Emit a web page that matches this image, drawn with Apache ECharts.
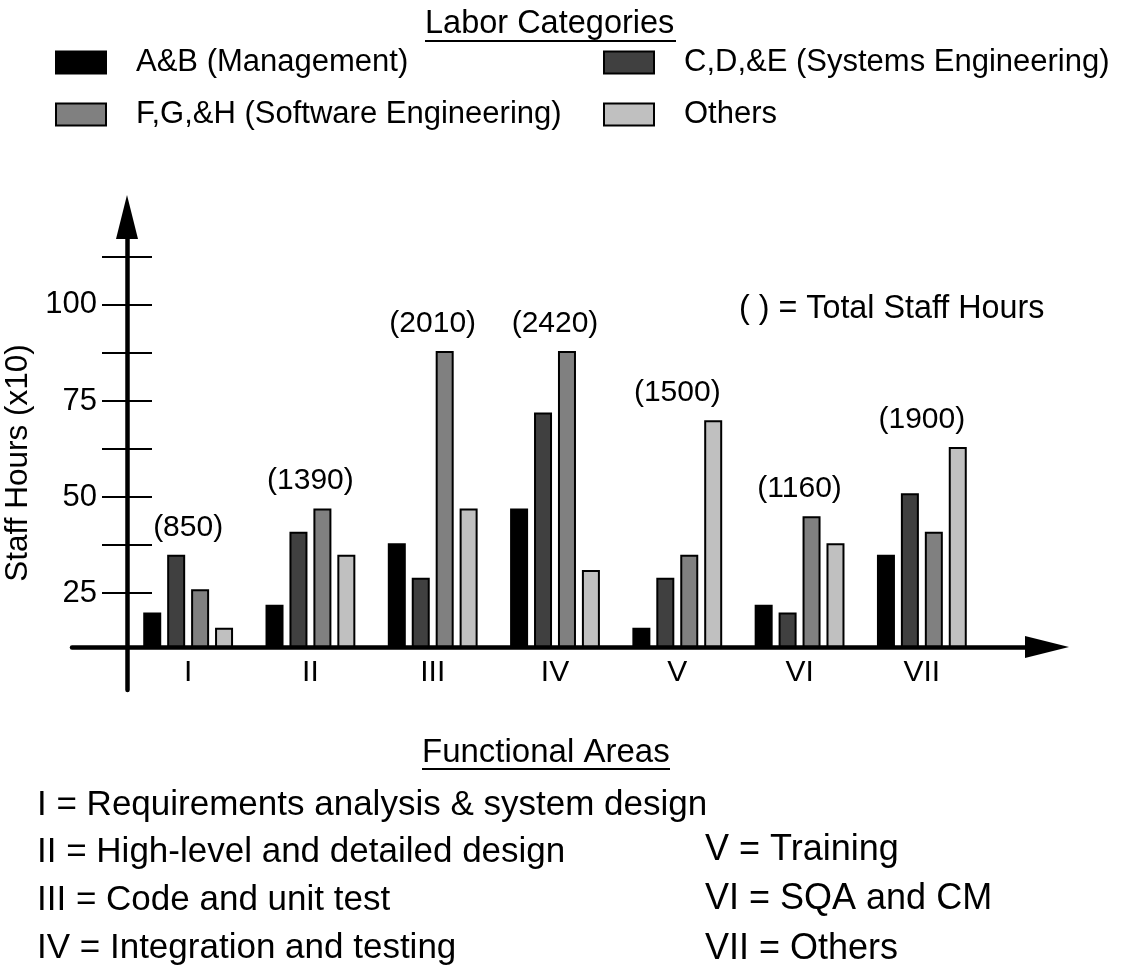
<!DOCTYPE html>
<html>
<head>
<meta charset="utf-8">
<title>Staff Hours by Functional Area</title>
<script src="https://cdn.jsdelivr.net/npm/echarts@6/dist/echarts.min.js"></script>
<style>
  html, body { margin: 0; padding: 0; background: #fff; }
  #chart { width: 1121px; height: 968px; }
</style>
</head>
<body>
<div id="chart"></div>
<script>
// functional areas on the x axis
const areas = ['I', 'II', 'III', 'IV', 'V', 'VI', 'VII']
// total staff hours printed over each group
const totals = [850, 1390, 2010, 2420, 1500, 1160, 1900]
// labor categories
const labor = [
  'A&B (Management)',
  'C,D,&E (Systems Engineering)',
  'F,G,&H (Software Engineering)',
  'Others',
]
// staff hours (x10), one value per functional area
const mgmt   = [20, 22, 38, 47, 16, 22, 35]
const sysEng = [35, 41, 29, 72, 29, 20, 51]
const swEng  = [26, 47, 88, 88, 35, 45, 41]
const others = [16, 35, 47, 31, 70, 38, 63]
// y axis ticks / labels
const yTicks  = [25, 37.5, 50, 62.5, 75, 87.5, 100, 112.5]
const yLabels = [25, 50, 75, 100]
// functional area key
const keyLeft = [
  'I = Requirements analysis & system design',
  'II = High-level and detailed design',
  'III = Code and unit test',
  'IV = Integration and testing',
]
const keyRight = ['V = Training', 'VI = SQA and CM', 'VII = Others']

const FONT = 'Liberation Sans, Arial, Helvetica, sans-serif'
const colors = ['#000000', '#404040', '#808080', '#c0c0c0']
const arrow = 'path://M10,0 L20,40 L0,40 Z'
const groupMax = areas.map((_, i) => Math.max(mgmt[i], sysEng[i], swEng[i], others[i]))

const txt = (size, extra) => Object.assign({
  color: '#000', fontFamily: FONT, fontSize: size, fontWeight: 'normal',
}, extra || {})

const barSeries = [mgmt, sysEng, swEng, others].map((vals, i) => ({
  name: labor[i],
  type: 'bar',
  xAxisIndex: 0,
  yAxisIndex: 0,
  barWidth: 18,
  barGap: '33%',
  clip: true,
  itemStyle: { color: colors[i], borderColor: '#000', borderWidth: 2 },
  data: vals,
}))

// text sits a few px lower than the swatch in the original
const legendText = txt(31, { lineHeight: 24, padding: [6, 0, 0, 25] })

const chart = echarts.init(document.getElementById('chart'))
chart.setOption({
  animation: false,
  backgroundColor: '#fff',
  title: [
    { text: 'Labor Categories', left: 425, top: 8, padding: 0, textStyle: txt(32.5) },
    { text: '( ) = Total Staff Hours', left: 739, top: 293, padding: 0, textStyle: txt(32.3) },
    { text: 'Functional Areas', left: 422, top: 736, padding: 0, textStyle: txt(33) },
    { text: keyLeft.join('\n'), left: 37, top: 781, padding: 0, textStyle: txt(35, { lineHeight: 47.7 }) },
    { text: keyRight.join('\n'), left: 705, top: 825, padding: 0, textStyle: txt(36, { lineHeight: 49.5 }) },
  ],
  legend: [
    {
      orient: 'vertical', left: 55, top: 47, padding: 0,
      itemWidth: 50, itemHeight: 22, itemGap: 21, icon: 'rect',
      selectedMode: false,
      data: [labor[0], labor[2]],
      textStyle: legendText,
    },
    {
      orient: 'vertical', left: 603, top: 47, padding: 0,
      itemWidth: 50, itemHeight: 22, itemGap: 21, icon: 'rect',
      selectedMode: false,
      data: [labor[1], labor[3]],
      textStyle: legendText,
    },
  ],
  grid: [
    { left: 127, right: 138, top: 228, bottom: 321, outerBoundsMode: 'none' },
    { left: 72, right: 74, top: 600, bottom: 321, outerBoundsMode: 'none' },
    { left: 127, width: 10, top: 217, bottom: 278, outerBoundsMode: 'none' },
  ],
  xAxis: [
    {
      gridIndex: 0, type: 'category', data: areas,
      axisLine: { show: false }, axisTick: { show: false },
      axisLabel: txt(30, { margin: 11 }),
    },
    {
      gridIndex: 1, type: 'value', z: 10,
      axisLine: {
        show: true, onZero: false,
        symbol: ['none', arrow], symbolSize: [22, 44],
        lineStyle: { color: '#000', width: 4.5 },
      },
      axisTick: { show: false }, axisLabel: { show: false }, splitLine: { show: false },
    },
    { gridIndex: 2, type: 'value', show: false },
  ],
  yAxis: [
    {
      gridIndex: 0, type: 'value', position: 'left', min: 11, max: 120,
      axisLine: { show: false },
      axisTick: { show: true, customValues: yTicks, length: 25, lineStyle: { color: '#000', width: 2 } },
      axisLabel: txt(31, { customValues: yLabels, margin: 30 }),
      splitLine: { show: false },
      name: 'Staff Hours (x10)',
      nameLocation: 'middle',
      nameRotate: 90,
      nameGap: 80,
      nameTextStyle: txt(31.5, { padding: [0, 51, 0, 0] }),
    },
    {
      gridIndex: 0, type: 'value', position: 'left', min: 11, max: 120,
      axisLine: { show: false },
      axisTick: { show: true, inside: true, customValues: yTicks, length: 25, lineStyle: { color: '#000', width: 2 } },
      axisLabel: { show: false },
      splitLine: { show: false },
    },
    { gridIndex: 1, type: 'value', show: false },
    {
      gridIndex: 2, type: 'value', position: 'left', z: 10,
      axisLine: {
        show: true, onZero: false,
        symbol: ['none', arrow], symbolSize: [22, 44],
        lineStyle: { color: '#000', width: 4.5 },
      },
      axisTick: { show: false }, axisLabel: { show: false }, splitLine: { show: false },
    },
  ],
  graphic: [
    { type: 'line', shape: { x1: 425, y1: 41, x2: 676, y2: 41 }, style: { stroke: '#000', lineWidth: 2 } },
    { type: 'line', shape: { x1: 422, y1: 769, x2: 670, y2: 769 }, style: { stroke: '#000', lineWidth: 2 } },
  ],
  series: barSeries.concat([{
    name: 'totals',
    type: 'scatter',
    xAxisIndex: 0,
    yAxisIndex: 0,
    symbolSize: 1,
    silent: true,
    itemStyle: { color: 'rgba(0,0,0,0)', opacity: 1 },
    label: {
      show: true, position: 'top', distance: 12,
      formatter: p => '(' + totals[p.dataIndex] + ')',
      color: '#000', fontFamily: FONT, fontSize: 30,
    },
    data: groupMax,
  }]),
})
</script>
</body>
</html>
